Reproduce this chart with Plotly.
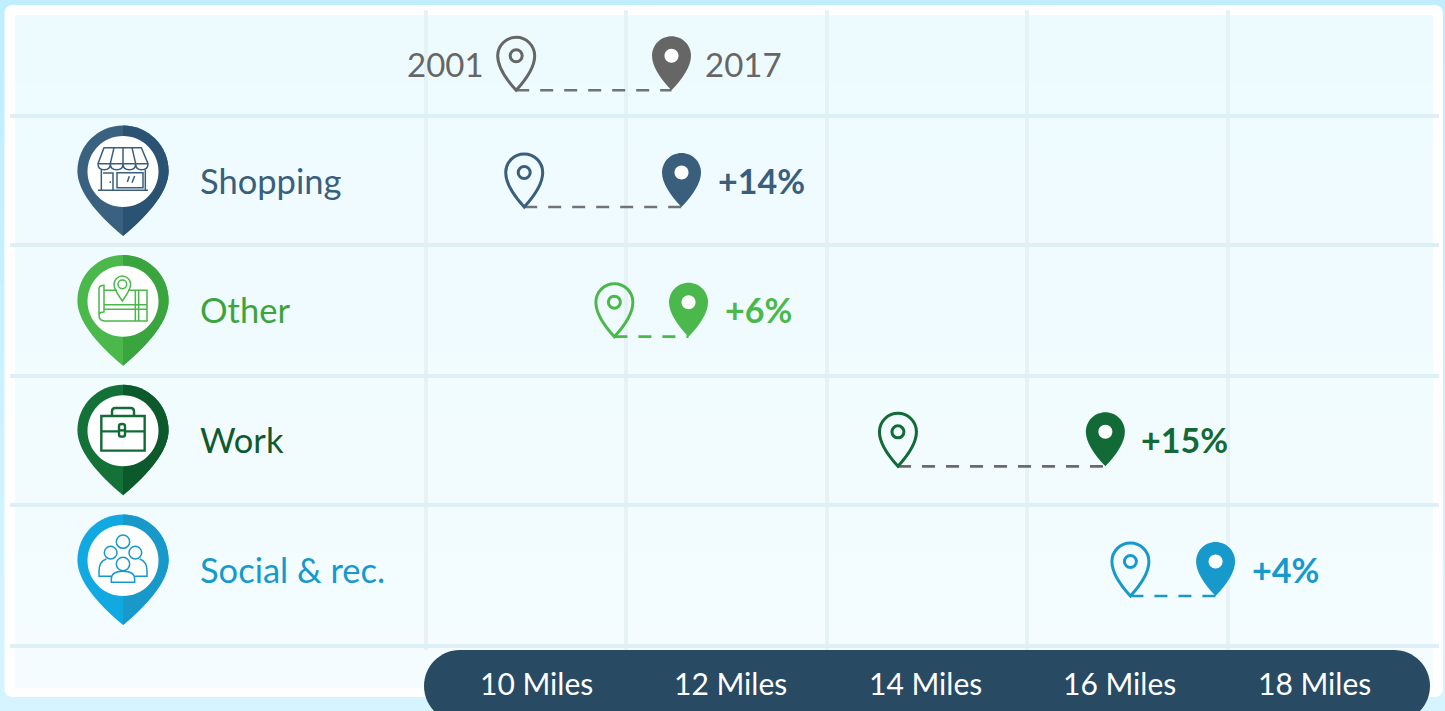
import re
import plotly.graph_objects as go

# ---------- data ----------
categories = ["Shopping", "Other", "Work", "Social & rec."]
miles_2001 = [10.98, 11.88, 14.71, 17.03]
miles_2017 = [12.55, 12.62, 16.78, 17.88]
pct_labels = ["+14%", "+6%", "+15%", "+4%"]
key_years = ["2001", "2017"]
key_miles = [10.90, 12.45]
grid_miles = [10, 12, 14, 16, 18]
tick_labels = ["10 Miles", "12 Miles", "14 Miles", "16 Miles", "18 Miles"]
row_edges = [-0.70, 0.293, 1.303, 2.298, 3.385]

# ---------- styles ----------
pin_colors = ["#3a5f7d", "#4ab84b", "#126a36", "#1799cb"]
light_colors = ["#3b6180", "#4ab84b", "#147238", "#12a9e0"]
dark_colors = ["#2a5273", "#3aa53e", "#0c5a2b", "#1899c9"]
text_colors = ["#3a5f7d", "#3aa53e", "#0e5a2e", "#1799cb"]
dash_colors = ["#737373", "#4ab84b", "#6a6a6a", "#1799cb"]
GREY = "#666666"
NAVY = "#284a63"
FONT = "Lato"
W, H = 1445, 711
L, R, T, B = 10, 1439, 10, 650
KEY_ROW = -0.9
Y0, DY = 207.0, 129.67
X0, DX = 426.0, 100.2


def fx(px):
    return (px - L) / (R - L)


def fy(py):
    return (B - py) / (B - T)


K = 0.5523


def circle(cx, cy, r):
    k = K * r
    return (f"M {cx-r} {cy} C {cx-r} {cy-k} {cx-k} {cy-r} {cx} {cy-r} "
            f"C {cx+k} {cy-r} {cx+r} {cy-k} {cx+r} {cy} "
            f"C {cx+r} {cy+k} {cx+k} {cy+r} {cx} {cy+r} "
            f"C {cx-k} {cy+r} {cx-r} {cy+k} {cx-r} {cy} Z")


def drop(r=19.5, h=35.0, y0=0.0):
    c = y0 + h
    return (f"M 0 {y0} C {-r*0.6} {y0+h*0.35} {-r} {y0+h*0.7} {-r} {c} "
            f"C {-r} {c+r*K} {-r*K} {c+r} 0 {c+r} "
            f"C {r*K} {c+r} {r} {c+r*K} {r} {c} "
            f"C {r} {y0+h*0.7} {r*0.6} {y0+h*0.35} 0 {y0} Z")


def half_drop(r, h, y0=0.0):
    c = y0 + h
    return (f"M 0 {y0} L 0 {c+r} C {r*K} {c+r} {r} {c+r*K} {r} {c} "
            f"C {r} {y0+h*0.7} {r*0.6} {y0+h*0.35} 0 {y0} Z")


shapes = []


def anchored(xa, ya, path, xref="x", **kw):
    shapes.append(dict(type="path", xref=xref, yref="y", xsizemode="pixel", ysizemode="pixel",
                       xanchor=xa, yanchor=ya, path=path, layer="above", **kw))


def pin_filled(x, y, color):
    anchored(x, y, drop(19.5, 34.5), fillcolor=color, line=dict(width=0))
    anchored(x, y, circle(0, 34.5, 7), fillcolor="#ffffff", line=dict(width=0))


def pin_outline(x, y, color):
    anchored(x, y, drop(18.5, 34.5), line=dict(color=color, width=3))
    anchored(x, y, circle(0, 34.5, 6), line=dict(color=color, width=3))


def icon_path(path, zx, zy):
    """Icon outlines sketched on a 3x grid, moved to pixels around the pin head."""
    out, is_x = [], True
    for tok in path.split():
        if re.fullmatch(r"-?[\d.]+", tok):
            v = float(tok)
            out.append(f"{(v-zx)/3:.2f}" if is_x else f"{(zy-v)/3+35:.2f}")
            is_x = not is_x
        else:
            out.append(tok)
    return " ".join(out)


shop = [
    "M 133 112 L 245 112 L 265 160 Q 265 178 246 178 Q 228 178 228 160 Q 228 178 209 178 Q 190 178 190 160 "
    "Q 190 178 171 178 Q 152 178 152 160 Q 152 178 134 178 Q 115 178 115 160 Z",
    "M 115 160 L 265 160 M 152 160 L 163 112 M 190 160 L 190 112 M 228 160 L 217 112",
    "M 125 178 L 125 240 M 257 178 L 257 240 M 115 240 L 265 240",
    "M 130 188 L 160 188 L 160 240 M 152 213 L 152 218",
    "M 172 187 L 250 187 L 250 232 L 172 232 Z M 203 215 L 209 198 M 217 217 L 225 197",
]
map_icon = [
    "M 133 540 L 172 540 M 205 540 L 262 540 L 262 632 L 135 632 Q 118 632 118 615 L 118 535 Q 118 525 133 525 L 133 605 Q 118 605 118 615",
    "M 227 540 L 227 632 M 237 540 L 237 632 M 133 583 L 262 583 M 133 597 L 262 597",
    "M 188 572 C 178 556 163 540 163 522 C 163 508 175 497 188 497 C 201 497 213 508 213 522 C 213 540 198 556 188 572 Z",
    circle(188, 522, 13),
]
case_icon = [
    "M 125 122 L 255 122 L 255 226 L 125 226 Z",
    "M 157 122 L 157 108 Q 157 98 167 98 L 213 98 Q 223 98 223 108 L 223 122",
    "M 125 168 L 176 168 M 197 168 L 255 168",
    "M 178 152 Q 178 146 187 146 Q 196 146 196 152 L 196 178 Q 196 184 187 184 Q 178 184 178 178 Z",
    "M 180 165 L 194 165",
]
people = [
    circle(190, 498, 20), circle(153, 531, 19), circle(227, 531, 19), circle(190, 565, 20),
    "M 155 602 L 118 602 L 118 585 Q 118 558 140 550",
    "M 225 602 L 262 602 L 262 585 Q 262 558 240 550",
    "M 155 620 L 225 620 L 225 610 Q 225 587 190 587 Q 155 587 155 610 Z",
]
icons = [(shop, 190, 185), (map_icon, 190, 574), (case_icon, 190, 168), (people, 190, 556)]


def mix(a, b, t):
    return "#" + "".join(f"{round(a[j] + (b[j] - a[j]) * t):02x}" for j in range(3))


def bands(x0, x1, y0, y1, top, bottom, n=10):
    """Soft vertical fade in the page background."""
    for j in range(n):
        ya = y0 + (y1 - y0) * j / n
        yb = y0 + (y1 - y0) * (j + 1) / n
        shapes.append(dict(type="rect", xref="paper", yref="paper", layer="below",
                           fillcolor=mix(top, bottom, j / (n - 1)), line=dict(width=0),
                           x0=fx(x0), x1=fx(x1), y0=fy(yb + (1 if j < n - 1 else 0)), y1=fy(ya)))


def rounded(x0, y0, x1, y1, r):
    k = r * (1 - K)
    return (f"M {fx(x0)} {fy(y0+r)} C {fx(x0)} {fy(y0+k)} {fx(x0+k)} {fy(y0)} {fx(x0+r)} {fy(y0)} "
            f"L {fx(x1-r)} {fy(y0)} C {fx(x1-k)} {fy(y0)} {fx(x1)} {fy(y0+k)} {fx(x1)} {fy(y0+r)} "
            f"L {fx(x1)} {fy(y1-r)} C {fx(x1)} {fy(y1-k)} {fx(x1-k)} {fy(y1)} {fx(x1-r)} {fy(y1)} "
            f"L {fx(x0+r)} {fy(y1)} C {fx(x0+k)} {fy(y1)} {fx(x0)} {fy(y1-k)} {fx(x0)} {fy(y1-r)} Z")


# page background
bands(0, W, 0, H, (0xc0, 0xee, 0xff), (0xd5, 0xf4, 0xff))
shapes.append(dict(type="path", xref="paper", yref="paper", layer="below", fillcolor="#ffffff", line=dict(width=0),
                   path=rounded(4.5, 5, 1443, 697, 8)))
bands(15, 1433, 15, 688, (0xed, 0xfb, 0xff), (0xf4, 0xfc, 0xff))
# pill behind the tick labels
shapes.append(dict(type="path", xref="paper", yref="paper", layer="above", fillcolor=NAVY, line=dict(width=0),
                   path=rounded(424, 650, 1430, 722, 36)))

fig = go.Figure()

annotations = []


def label(px, py, text, size, color, anchor="left", bold=False):
    annotations.append(dict(xref="paper", yref="paper", x=fx(px), y=fy(py), text=f"<b>{text}</b>" if bold else text,
                            showarrow=False, xanchor=anchor, yanchor="middle",
                            font=dict(family=FONT, size=size, color=color)))


# key row
fig.add_trace(go.Scatter(x=key_miles, y=[KEY_ROW, KEY_ROW], mode="lines", name="key",
                         line=dict(color="#737373", width=2.6, dash="13px,11px"), hoverinfo="skip", showlegend=False))
pin_outline(key_miles[0], KEY_ROW, GREY)
pin_filled(key_miles[1], KEY_ROW, GREY)
annotations.append(dict(xref="x", yref="y", x=key_miles[0], y=KEY_ROW, text=key_years[0], showarrow=False,
                        xanchor="right", yanchor="middle", xshift=-30, yshift=26,
                        font=dict(family=FONT, size=33, color=GREY)))
annotations.append(dict(xref="x", yref="y", x=key_miles[1], y=KEY_ROW, text=key_years[1], showarrow=False,
                        xanchor="left", yanchor="middle", xshift=32, yshift=26,
                        font=dict(family=FONT, size=33, color=GREY)))

# rows
for i, cat in enumerate(categories):
    fig.add_trace(go.Scatter(x=[miles_2001[i], miles_2017[i]], y=[i, i], mode="lines", name=cat,
                             line=dict(color=dash_colors[i], width=2.6, dash="13px,11px"),
                             hoverinfo="x+name", showlegend=False))
    pin_outline(miles_2001[i], i, pin_colors[i])
    pin_filled(miles_2017[i], i, pin_colors[i])
    annotations.append(dict(xref="x", yref="y", x=miles_2017[i], y=i, text=f"<b>{pct_labels[i]}</b>", showarrow=False,
                            xanchor="left", yanchor="middle", xshift=34, yshift=27,
                            font=dict(family=FONT, size=34, color=pin_colors[i])))
    # large category pin: head above the row's value line, tip below it
    xa = fx(123)
    anchored(xa, i, drop(45.6, 65, -29), xref="paper", fillcolor=light_colors[i], line=dict(width=0))
    anchored(xa, i, half_drop(45.6, 65, -29), xref="paper", fillcolor=dark_colors[i], line=dict(width=0))
    anchored(xa, i, circle(0, 35.5, 35.5), xref="paper", fillcolor="#ffffff", line=dict(width=0))
    paths, zx, zy = icons[i]
    for p in paths:
        anchored(xa, i, icon_path(p, zx, zy), xref="paper",
                 line=dict(color=pin_colors[i], width=2.4 if i == 2 else 1.5))
    annotations.append(dict(xref="paper", yref="y", x=fx(198), y=i, text=cat, showarrow=False,
                            xanchor="left", yanchor="middle", yshift=27,
                            font=dict(family=FONT, size=34.5, color=text_colors[i])))

for i, t in enumerate(tick_labels):
    label(536 + i * 194.5, 683, t, 30, "#ffffff", anchor="center")

fig.update_layout(
    width=W, height=H, autosize=False,
    margin=dict(l=L, r=W - R, t=T, b=H - B, pad=0),
    paper_bgcolor="#c9f0ff", plot_bgcolor="rgba(0,0,0,0)",
    showlegend=False, shapes=shapes, annotations=annotations,
    xaxis=dict(range=[10 + (L - X0) / DX, 10 + (R - X0) / DX], tickmode="array", tickvals=grid_miles,
               showticklabels=False, ticks="", showgrid=True, gridcolor="#e6f2f6", gridwidth=4,
               zeroline=False, showline=False, fixedrange=True),
    yaxis=dict(range=[(B - Y0) / DY, (T - Y0) / DY], tickmode="array", tickvals=row_edges,
               showticklabels=False, ticks="", showgrid=True, gridcolor="#deeff5", gridwidth=4,
               zeroline=False, showline=False, fixedrange=True),
)
fig.write_html("out.html", config={"displayModeBar": False},
               post_script="document.body.style.margin='0';document.documentElement.style.overflow='hidden';")
